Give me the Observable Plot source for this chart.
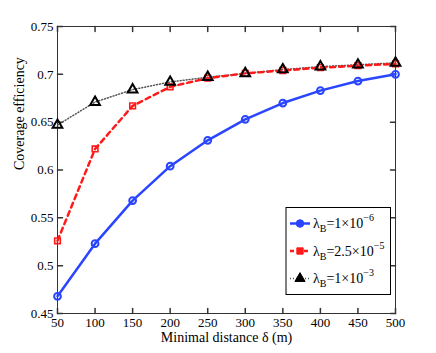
<!DOCTYPE html>
<html><head><meta charset="utf-8">
<script src="https://cdn.jsdelivr.net/npm/d3@7"></script>
<script src="https://cdn.jsdelivr.net/npm/@observablehq/plot@0.6"></script>
<style>body{margin:0;background:white} svg text{font-family:"Liberation Serif","Times New Roman",serif !important;}</style>
</head><body><div id="chart"></div>
<script>
const distances = [50,100,150,200,250,300,350,400,450,500];
const seriesLow = [0.468,0.523,0.568,0.604,0.631,0.653,0.670,0.683,0.693,0.700];
const seriesMid = [0.526,0.622,0.667,0.687,0.696,0.701,0.704,0.707,0.709,0.711];
const seriesHigh = [0.647,0.671,0.684,0.692,0.697,0.701,0.705,0.708,0.710,0.712];
const xTicks = [50,100,150,200,250,300,350,400,450,500];
const yTicks = [0.45,0.5,0.55,0.6,0.65,0.7,0.75];
const yTickLabels = ["0.45","0.5","0.55","0.6","0.65","0.7","0.75"];

const low = distances.map((d,i)=>({x:d,y:seriesLow[i]}));
const mid = distances.map((d,i)=>({x:d,y:seriesMid[i]}));
const high = distances.map((d,i)=>({x:d,y:seriesHigh[i]}));

const blue = "#2a45ff", red = "#ff1a1a", blk = "#000";
const tickShape = {draw(ctx, l){ctx.moveTo(0,0); ctx.lineTo(0,-l);}};
const axisColor = "#333";
const serif = "Liberation Serif, Times New Roman, serif";

const chart = Plot.plot({
  width:436, height:353, marginLeft:57, marginRight:41, marginTop:26, marginBottom:40,
  x:{domain:[50,500]}, y:{domain:[0.45,0.75]},
  style:{fontFamily:serif, fontSize:"13px", background:"white", color:"black"},
  marks:[
    Plot.frame({stroke:axisColor}),
    Plot.axisX(xTicks, {tickSize:0, tickPadding:4, fontSize:13, label:null}),
    Plot.axisY(yTicks, {tickSize:0, tickPadding:4, fontSize:13, label:null, tickFormat:(d)=>yTickLabels[yTicks.indexOf(d)]}),
    Plot.vector(xTicks, {x:d=>d, y:0.45, length:5, rotate:0, anchor:"start", shape:tickShape, stroke:axisColor}),
    Plot.vector(xTicks, {x:d=>d, y:0.75, length:5, rotate:180, anchor:"start", shape:tickShape, stroke:axisColor}),
    Plot.vector(yTicks, {x:50, y:d=>d, length:5, rotate:90, anchor:"start", shape:tickShape, stroke:axisColor}),
    Plot.vector(yTicks, {x:500, y:d=>d, length:5, rotate:270, anchor:"start", shape:tickShape, stroke:axisColor}),
    Plot.text(["Minimal distance δ (m)"], {frameAnchor:"bottom", dy:28, fontSize:14, text:d=>d}),
    Plot.text(["Coverage efficiency"], {frameAnchor:"left", dx:-38, rotate:-90, fontSize:14, text:d=>d}),
    Plot.line(high, {x:"x", y:"y", stroke:"#555", strokeWidth:1.5, strokeDasharray:"1,2"}),
    Plot.line(mid, {x:"x", y:"y", stroke:red, strokeWidth:2.5, strokeDasharray:"5,4"}),
    Plot.line(low, {x:"x", y:"y", stroke:blue, strokeWidth:2.5}),
    Plot.dot(low, {x:"x", y:"y", r:3.4, stroke:blue, strokeWidth:2, fill:"none"}),
    Plot.dot(mid, {x:"x", y:"y", symbol:"square", r:3.2, stroke:red, strokeWidth:1.6, fill:"none"}),
    Plot.dot(high, {x:"x", y:"y", symbol:"triangle", r:3.6, stroke:blk, strokeWidth:2, fill:"none"})
  ]
});
document.getElementById("chart").appendChild(chart);
d3.select(chart).attr("font-family", serif).selectAll("text").attr("font-family", serif);

// legend
const svg = d3.select(chart);
const lg = svg.append("g").attr("font-family",serif).attr("text-anchor","start");
lg.append("rect").attr("x",286).attr("y",207.5).attr("width",104.5).attr("height",87)
  .attr("fill","white").attr("stroke","black").attr("stroke-width",1);
const entries = [
  {stroke:blue, w:2.5, dash:null, sym:d3.symbolCircle, size:45, fill:blue, mstroke:blue, mant:"1", exp:"−6"},
  {stroke:red, w:2.5, dash:"4,3", sym:d3.symbolSquare, size:40, fill:red, mstroke:red, mant:"2.5", exp:"−5"},
  {stroke:"#555", w:1.5, dash:"1,2", sym:d3.symbolTriangle, size:45, fill:blk, mstroke:blk, mant:"1", exp:"−3"}
];
entries.forEach((e,i)=>{
  const y = 223.5 + i*27.5;
  lg.append("line").attr("x1",290).attr("x2",310).attr("y1",y).attr("y2",y)
    .attr("stroke",e.stroke).attr("stroke-width",e.w).attr("stroke-dasharray",e.dash);
  lg.append("path").attr("d",d3.symbol(e.sym,e.size)()).attr("transform",`translate(300,${y})`)
    .attr("fill",e.fill).attr("stroke",e.mstroke).attr("stroke-width",1);
  const t = lg.append("text").attr("x",313).attr("y",y+4.5).attr("font-size",14).attr("text-anchor","start");
  t.append("tspan").text("λ");
  t.append("tspan").attr("font-size",10).attr("dy",4).text("B");
  t.append("tspan").attr("dy",-4).text("=" + e.mant + "×10");
  t.append("tspan").attr("font-size",10).attr("dy",-7).text(e.exp);
});
</script></body></html>
